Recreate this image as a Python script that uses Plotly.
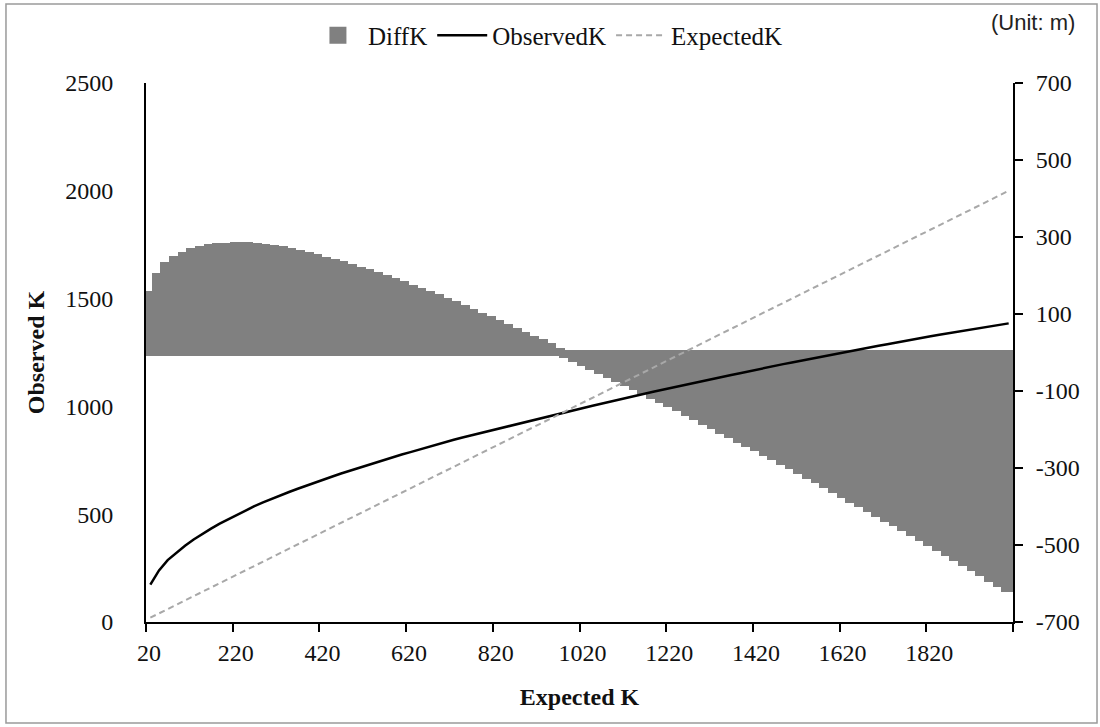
import plotly.graph_objects as go

# ---------------- data ----------------
expected_k = [20, 40, 60, 80, 100, 120, 140, 160, 180, 200,
              220, 240, 260, 280, 300, 320, 340, 360, 380, 400,
              420, 440, 460, 480, 500, 520, 540, 560, 580, 600,
              620, 640, 660, 680, 700, 720, 740, 760, 780, 800,
              820, 840, 860, 880, 900, 920, 940, 960, 980, 1000,
              1020, 1040, 1060, 1080, 1100, 1120, 1140, 1160, 1180, 1200,
              1220, 1240, 1260, 1280, 1300, 1320, 1340, 1360, 1380, 1400,
              1420, 1440, 1460, 1480, 1500, 1520, 1540, 1560, 1580, 1600,
              1620, 1640, 1660, 1680, 1700, 1720, 1740, 1760, 1780, 1800,
              1820, 1840, 1860, 1880, 1900, 1920, 1940, 1960, 1980, 2000]

observed_k = [173, 239, 287, 322, 354, 383, 409, 433, 456, 477,
              498, 518, 537, 555, 572, 588, 603, 618, 633, 647,
              661, 675, 689, 702, 715, 728, 741, 753, 765, 777,
              788, 800, 812, 824, 835, 845, 856, 866, 876, 886,
              896, 906, 916, 926, 936, 946, 956, 965, 974, 984,
              993, 1003, 1012, 1022, 1031, 1041, 1050, 1059, 1068, 1077,
              1086, 1095, 1103, 1112, 1120, 1129, 1137, 1146, 1154, 1163,
              1171, 1180, 1188, 1196, 1204, 1212, 1220, 1228, 1236, 1243,
              1251, 1258, 1266, 1273, 1281, 1288, 1296, 1303, 1311, 1318,
              1325, 1332, 1339, 1346, 1353, 1360, 1367, 1373, 1379, 1385]

diff_k = [153, 199, 227, 242, 254, 263, 269, 273, 276, 277,
          278, 278, 277, 275, 272, 268, 263, 258, 253, 247,
          241, 235, 229, 222, 215, 208, 201, 193, 185, 177,
          168, 160, 152, 144, 135, 125, 116, 106, 96, 86,
          76, 66, 56, 46, 36, 26, 16, 5, -6, -16,
          -27, -37, -48, -58, -69, -79, -90, -101, -112, -123,
          -134, -145, -157, -168, -180, -191, -203, -214, -226, -237,
          -249, -260, -272, -284, -296, -308, -320, -332, -344, -357,
          -369, -382, -394, -407, -419, -432, -444, -457, -469, -482,
          -495, -508, -521, -534, -547, -560, -573, -587, -601, -615]

x_tick_labels = ["20", "220", "420", "620", "820", "1020", "1220", "1420", "1620", "1820"]
left_ticks = [0, 500, 1000, 1500, 2000, 2500]
right_ticks = [-700, -500, -300, -100, 100, 300, 500, 700]
right_tick_labels = ["-700", "-500", "-300", "-100", "100", "300", "500", "700"]

# ---------------- styling ----------------
SERIF = "Liberation Serif, Times New Roman, serif"
SANS = "Liberation Sans, Arial, sans-serif"
GRAY_BAR = "#808080"
TXT = "#111111"
step = expected_k[1] - expected_k[0]

tickvals = [int(t) - step / 2 for t in x_tick_labels] + [expected_k[-1] + step / 2]
ticktext = x_tick_labels + [""]

fig = go.Figure()

fig.add_trace(go.Bar(
    x=expected_k, y=diff_k, name="DiffK", yaxis="y",
    width=step,
    marker=dict(color=GRAY_BAR, line=dict(color=GRAY_BAR, width=6)),
))
fig.add_trace(go.Scatter(
    x=expected_k, y=observed_k, name="ObservedK", yaxis="y2",
    mode="lines", line=dict(color="#000000", width=2.5),
))
fig.add_trace(go.Scatter(
    x=expected_k, y=expected_k, name="ExpectedK", yaxis="y2",
    mode="lines", line=dict(color="#a8a8a8", width=2, dash="6px,4px"),
))

fig.update_layout(
    width=1100, height=727,
    margin=dict(l=146, r=87, t=83, b=105),
    paper_bgcolor="white", plot_bgcolor="white",
    bargap=0,
    showlegend=True,
    legend=dict(
        orientation="h", x=0.4636, y=1.088, xanchor="center", yanchor="middle",
        font=dict(family=SERIF, size=25, color=TXT),
        bgcolor="rgba(0,0,0,0)", itemwidth=50,
    ),
    xaxis=dict(
        range=[expected_k[0] - step / 2, expected_k[-1] + step / 2],
        tickmode="array", tickvals=tickvals, ticktext=ticktext,
        ticks="outside", ticklen=8, tickwidth=2, tickcolor="black",
        ticklabelshift=3,
        showline=True, linecolor="black", linewidth=2,
        showgrid=False, zeroline=False,
        tickfont=dict(family=SERIF, size=24, color=TXT),
        title=dict(text="<b>Expected K</b>", standoff=23,
                   font=dict(family=SERIF, size=24, color=TXT)),
    ),
    yaxis=dict(
        side="right", range=[-700, 700],
        tickmode="array", tickvals=right_ticks, ticktext=right_tick_labels,
        ticks="outside", ticklen=8, tickwidth=2, tickcolor="black",
        ticklabelstandoff=8,
        showline=True, linecolor="black", linewidth=2,
        showgrid=False, zeroline=False,
        tickfont=dict(family=SERIF, size=24, color=TXT),
    ),
    yaxis2=dict(
        side="left", overlaying="y", range=[0, 2500],
        tickmode="array", tickvals=left_ticks,
        ticks="outside", ticklen=26, tickcolor="rgba(0,0,0,0)",
        showline=True, linecolor="black", linewidth=2,
        showgrid=False, zeroline=False,
        tickfont=dict(family=SERIF, size=24, color=TXT),
        title=dict(text="<b>Observed K</b>", standoff=14,
                   font=dict(family=SERIF, size=24, color=TXT)),
    ),
    annotations=[dict(
        text="(Unit: m)", xref="paper", yref="paper",
        x=1.0738, y=1.113, xanchor="right", yanchor="middle",
        showarrow=False,
        font=dict(family=SANS, size=22, color="#222222"),
    )],
    shapes=[dict(
        type="rect", xref="paper", yref="paper",
        x0=-0.1615, x1=1.0969, y0=-0.1874, y1=1.1466,
        line=dict(color="#9a9a9a", width=1.5), fillcolor="rgba(0,0,0,0)",
        layer="below",
    )],
)

fig.write_html("out.html", config={"displayModeBar": False},
               post_script="document.body.style.margin='0px';")
